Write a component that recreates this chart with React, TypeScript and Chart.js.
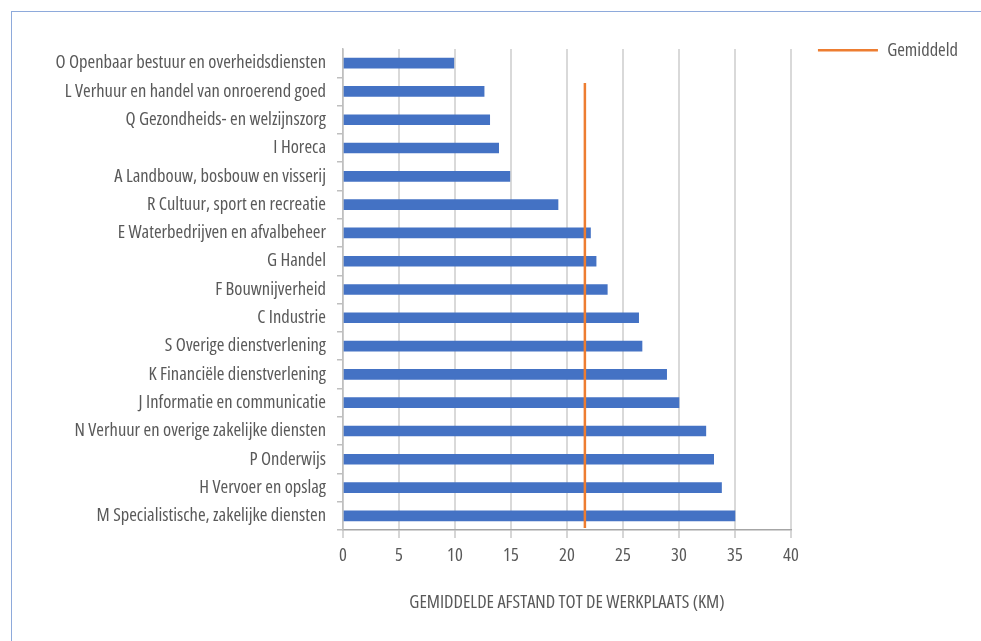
import { useEffect, useRef } from 'react';
import { Chart, registerables } from 'chart.js';

Chart.register(...registerables);

const categories = [
  'O Openbaar bestuur en overheidsdiensten',
  'L Verhuur en handel van onroerend goed',
  'Q Gezondheids- en welzijnszorg',
  'I Horeca',
  'A Landbouw, bosbouw en visserij',
  'R Cultuur, sport en recreatie',
  'E Waterbedrijven en afvalbeheer',
  'G Handel',
  'F Bouwnijverheid',
  'C Industrie',
  'S Overige dienstverlening',
  'K Financiële dienstverlening',
  'J Informatie en communicatie',
  'N Verhuur en overige zakelijke diensten',
  'P Onderwijs',
  'H Vervoer en opslag',
  'M Specialistische, zakelijke diensten',
];

const distances = [9.9, 12.6, 13.1, 13.9, 14.9, 19.2, 22.1, 22.6, 23.6, 26.4, 26.7, 28.9, 30.0, 32.4, 33.1, 33.8, 35.0];

const averageLabel = 'Gemiddeld';
const averageValue = 21.6;
// start / end of the average line, on a hidden 0..17 band-index axis
const averageSpan = [1.2, 16.93];

const xMin = 0;
const xMax = 40;
const xStep = 5;
const xTitle = 'GEMIDDELDE AFSTAND TOT DE WERKPLAATS (KM)';

const FONT = "'Open Sans', 'Noto Sans', sans-serif";
const STRETCH = 'normal condensed';
const FS = 18.5;
const TEXT = '#595959';

export default function App() {
  const ref = useRef<HTMLCanvasElement | null>(null);

  useEffect(() => {
    if (!ref.current) return;
    const f = (size: number) => ({ family: FONT, size, weight: STRETCH });
    const chart = new Chart(ref.current, {
      data: {
        labels: categories,
        datasets: [
          {
            type: 'bar',
            label: 'Afstand',
            indexAxis: 'y',
            data: distances,
            backgroundColor: '#4472C4',
            barThickness: 10,
            xAxisID: 'x',
            yAxisID: 'y',
            order: 1,
          } as any,
          {
            type: 'line',
            label: averageLabel,
            data: averageSpan.map((v) => ({ x: averageValue, y: v })),
            borderColor: '#ED7D31',
            backgroundColor: '#ED7D31',
            borderWidth: 2.5,
            pointRadius: 0,
            xAxisID: 'x',
            yAxisID: 'y2',
            order: 0,
          } as any,
        ],
      },
      options: {
        animation: false,
        responsive: false,
        layout: { padding: { left: 20, right: 32, top: 14, bottom: 0 } },
        scales: {
          x: {
            type: 'linear',
            position: 'bottom',
            min: xMin,
            max: xMax,
            ticks: { stepSize: xStep, color: TEXT, font: f(FS), padding: 7 },
            grid: { color: '#d9d9d9', lineWidth: 2, tickLength: 8, tickColor: '#c8c8c8', tickWidth: 1.5 },
            border: { color: '#a6a6a6', width: 1.5 },
            title: {
              display: true,
              text: xTitle,
              color: TEXT,
              font: f(FS),
              padding: { top: 0, bottom: 27 },
            },
            afterFit: (s: any) => {
              s.height = 111;
            },
          },
          y: {
            type: 'category',
            position: 'left',
            offset: true,
            ticks: { color: TEXT, font: f(FS), padding: 11, autoSkip: false },
            grid: {
              offset: true,
              drawOnChartArea: false,
              tickLength: 6,
              color: '#bfbfbf',
              tickColor: (c: any) => (c.index === 0 ? 'rgba(0,0,0,0)' : '#bfbfbf'),
              lineWidth: 1.5,
            },
            border: { color: '#bfbfbf', width: 1.5 },
            afterFit: (s: any) => {
              s.width = 323;
            },
          },
          y2: {
            type: 'linear',
            axis: 'y',
            display: false,
            min: 0,
            max: categories.length,
            reverse: true,
          },
        },
        plugins: {
          title: { display: true, text: ' ', padding: 0, font: { size: 10, lineHeight: '35px' } as any },
          legend: {
            position: 'right',
            align: 'start',
            labels: {
              filter: (item: any) => item.datasetIndex === 1,
              usePointStyle: true,
              pointStyle: 'line',
              pointStyleWidth: 60,
              padding: 27,
              color: TEXT,
              font: f(FS),
            },
          },
          tooltip: { enabled: false },
        },
      } as any,
    });
    return () => chart.destroy();
  }, []);

  return (
    <div style={{ position: 'fixed', left: 0, top: 0, width: 981, height: 641, overflow: 'hidden', background: '#fff' }}>
      <div
        style={{
          position: 'absolute',
          left: 11,
          top: 11,
          width: 1200,
          height: 900,
          borderLeft: '1px solid #8EAADB',
          borderTop: '1px solid #8EAADB',
        }}
      />
      <canvas ref={ref} width={1000} height={641} style={{ position: 'absolute', left: 0, top: 0, width: 1000, height: 641 }} />
    </div>
  );
}
